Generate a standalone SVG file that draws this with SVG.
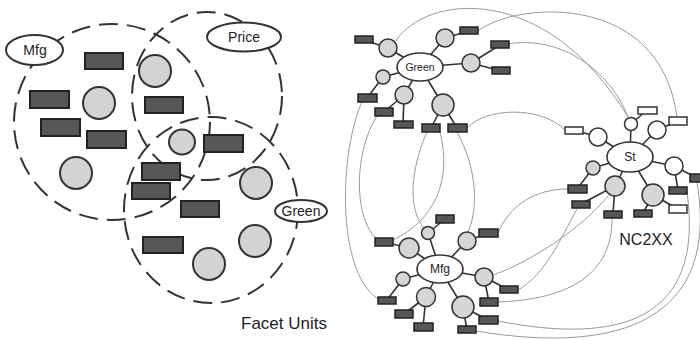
<svg xmlns="http://www.w3.org/2000/svg" width="700" height="340" viewBox="0 0 700 340">
<style>
.dash{fill:none;stroke:#333;stroke-width:2;stroke-dasharray:19 9}
.lr{fill:#575757;stroke:#222;stroke-width:2}
.lc{fill:#d3d3d3;stroke:#333;stroke-width:2}
.lab{fill:#fff;stroke:#333;stroke-width:2}
.t{font-family:"Liberation Sans",Arial,sans-serif;fill:#222;text-anchor:middle}
.hub{fill:#fff;stroke:#333;stroke-width:1.6}
.sp{stroke:#333;stroke-width:1.6;fill:none}
.g{fill:#d6d6d6;stroke:#333;stroke-width:1.5}
.w{fill:#fff;stroke:#333;stroke-width:1.5}
.dr{fill:#575757;stroke:#222;stroke-width:1.5}
.wr{fill:#fff;stroke:#333;stroke-width:1.5}
.cv{fill:none;stroke:#9a9a9a;stroke-width:1}
</style>
<rect width="700" height="340" fill="#fff"/>

<!-- LEFT: facet units -->
<g id="facet-circles">
<circle class="dash" cx="112" cy="122" r="98"/>
<ellipse class="dash" cx="207" cy="96" rx="75" ry="84"/>
<ellipse class="dash" cx="211" cy="210" rx="87" ry="93"/>
</g>
<g id="facet-units">
<rect class="lr" x="85" y="53" width="38" height="16"/>
<rect class="lr" x="30" y="91" width="39" height="17"/>
<rect class="lr" x="41" y="119" width="39" height="17"/>
<rect class="lr" x="87" y="131" width="39" height="17"/>
<rect class="lr" x="145" y="97" width="38" height="16"/>
<rect class="lr" x="204" y="135" width="39" height="17"/>
<rect class="lr" x="142" y="163" width="38" height="17"/>
<rect class="lr" x="132" y="183" width="38" height="16"/>
<rect class="lr" x="143" y="237" width="40" height="16"/>
<rect class="lr" x="181" y="201" width="38" height="16"/>
<circle class="lc" cx="155" cy="71" r="16"/>
<circle class="lc" cx="99" cy="103" r="16"/>
<circle class="lc" cx="76" cy="173" r="16"/>
<ellipse class="lc" cx="182" cy="142" rx="13" ry="12.5"/>
<circle class="lc" cx="256" cy="183" r="16"/>
<circle class="lc" cx="255" cy="241" r="16"/>
<circle class="lc" cx="209" cy="264" r="16"/>
</g>
<g id="label-mfg"><ellipse class="lab" cx="34.5" cy="50" rx="28.5" ry="15"/><text class="t" x="35" y="55" font-size="14">Mfg</text></g>
<g id="label-price"><ellipse class="lab" cx="244" cy="37" rx="37" ry="14.5"/><text class="t" x="244" y="42" font-size="14">Price</text></g>
<g id="label-green"><ellipse class="lab" cx="301" cy="211" rx="26" ry="11"/><text class="t" x="301" y="216" font-size="14">Green</text></g>
<text class="t" x="284" y="329" font-size="17">Facet Units</text>

<!-- RIGHT: network -->
<g id="connectors">
<path class="cv" d="M396,41 C425,-5 545,-20 628,117"/>
<path class="cv" d="M478,31 C515,2 660,-10 677,117"/>
<path class="cv" d="M508,44 C560,35 610,70 628,117"/>
<path class="cv" d="M467,128 C485,108 540,105 565,130"/>
<path class="cv" d="M362,102 C340,150 335,270 378,299"/>
<path class="cv" d="M377,116 C355,150 352,215 377,240"/>
<path class="cv" d="M427,132 C410,170 408,210 424,228"/>
<path class="cv" d="M440,132 C452,180 435,220 393,240"/>
<path class="cv" d="M457,132 C478,170 478,210 468,232"/>
<path class="cv" d="M498,233 C510,205 535,189 568,189"/>
<path class="cv" d="M493,275 C530,262 580,230 608,196"/>
<path class="cv" d="M518,290 C545,275 560,240 577,209"/>
<path class="cv" d="M497,302 C560,300 612,280 612,219"/>
<path class="cv" d="M498,321 C620,345 705,320 687,192"/>
<path class="cv" d="M476,331 C620,355 720,320 697,182"/>
</g>

<g id="green-hub">
<g class="sp">
<line x1="420" y1="67" x2="388" y2="48"/><line x1="388" y1="48" x2="364" y2="40"/>
<line x1="420" y1="67" x2="445" y2="38"/><line x1="445" y1="38" x2="469" y2="31"/>
<line x1="420" y1="67" x2="471" y2="63"/><line x1="471" y1="63" x2="500" y2="45"/><line x1="471" y1="63" x2="501" y2="71"/>
<line x1="420" y1="67" x2="383" y2="77"/><line x1="383" y1="77" x2="367" y2="98"/>
<line x1="420" y1="67" x2="404" y2="95"/><line x1="404" y1="95" x2="384" y2="112"/><line x1="404" y1="95" x2="403" y2="124"/>
<line x1="420" y1="67" x2="443" y2="105"/><line x1="443" y1="105" x2="431" y2="128"/><line x1="443" y1="105" x2="457" y2="128"/>
</g>
<circle class="g" cx="388" cy="48" r="9"/><rect class="dr" x="355" y="36" width="18" height="7"/>
<circle class="g" cx="445" cy="38" r="9"/><rect class="dr" x="460" y="27" width="18" height="7"/>
<circle class="g" cx="471" cy="63" r="9"/><rect class="dr" x="491" y="41" width="18" height="7"/><rect class="dr" x="492" y="67" width="18" height="7"/>
<circle class="g" cx="383" cy="77" r="7"/><rect class="dr" x="358" y="94" width="19" height="8"/>
<circle class="g" cx="404" cy="95" r="9"/><rect class="dr" x="375" y="108" width="18" height="8"/><rect class="dr" x="394" y="121" width="19" height="7"/>
<circle class="g" cx="443" cy="105" r="11"/><rect class="dr" x="422" y="124" width="18" height="8"/><rect class="dr" x="448" y="124" width="19" height="8"/>
<ellipse class="hub" cx="420" cy="67" rx="23" ry="14"/>
<text class="t" x="420" y="71" font-size="10.5">Green</text>
</g>

<g id="st-hub">
<g class="sp">
<line x1="630" y1="157" x2="631" y2="124"/><line x1="631" y1="124" x2="647" y2="110"/>
<line x1="630" y1="157" x2="657" y2="130"/><line x1="657" y1="130" x2="678" y2="121"/>
<line x1="630" y1="157" x2="598" y2="137"/><line x1="598" y1="137" x2="574" y2="130"/>
<line x1="630" y1="157" x2="674" y2="166"/><line x1="674" y1="166" x2="697" y2="178"/><line x1="674" y1="166" x2="678" y2="190"/>
<line x1="630" y1="157" x2="593" y2="168"/><line x1="593" y1="168" x2="577" y2="189"/>
<line x1="630" y1="157" x2="615" y2="186"/><line x1="615" y1="186" x2="581" y2="204"/><line x1="615" y1="186" x2="613" y2="214"/>
<line x1="630" y1="157" x2="653" y2="195"/><line x1="653" y1="195" x2="643" y2="213"/><line x1="653" y1="195" x2="678" y2="209"/>
</g>
<circle class="w" cx="631" cy="124" r="6.5"/><rect class="wr" x="638" y="107" width="19" height="7"/>
<circle class="w" cx="657" cy="130" r="9"/><rect class="wr" x="669" y="117" width="18" height="8"/>
<circle class="w" cx="598" cy="137" r="9"/><rect class="wr" x="565" y="127" width="18" height="7"/>
<circle class="w" cx="674" cy="166" r="9"/><rect class="dr" x="690" y="174" width="18" height="8"/><rect class="dr" x="669" y="187" width="18" height="7"/>
<circle class="g" cx="593" cy="168" r="7"/><rect class="dr" x="568" y="185" width="19" height="8"/>
<circle class="g" cx="615" cy="186" r="10"/><rect class="dr" x="572" y="201" width="18" height="7"/><rect class="dr" x="604" y="211" width="18" height="7"/>
<circle class="g" cx="653" cy="195" r="11"/><rect class="dr" x="634" y="210" width="18" height="7"/><rect class="wr" x="669" y="205" width="18" height="8"/>
<ellipse class="hub" cx="630" cy="157" rx="23" ry="15"/>
<text class="t" x="630" y="161" font-size="12">St</text>
</g>

<g id="mfg-hub">
<g class="sp">
<line x1="440" y1="269" x2="409" y2="248"/><line x1="409" y1="248" x2="384" y2="242"/>
<line x1="440" y1="269" x2="428" y2="233"/><line x1="428" y1="233" x2="445" y2="219"/>
<line x1="440" y1="269" x2="467" y2="241"/><line x1="467" y1="241" x2="488" y2="233"/>
<line x1="440" y1="269" x2="403" y2="279"/><line x1="403" y1="279" x2="387" y2="300"/>
<line x1="440" y1="269" x2="426" y2="297"/><line x1="426" y1="297" x2="404" y2="314"/><line x1="426" y1="297" x2="423" y2="327"/>
<line x1="440" y1="269" x2="484" y2="277"/><line x1="484" y1="277" x2="509" y2="290"/><line x1="484" y1="277" x2="489" y2="302"/>
<line x1="440" y1="269" x2="463" y2="307"/><line x1="463" y1="307" x2="488" y2="320"/><line x1="463" y1="307" x2="467" y2="330"/>
</g>
<circle class="g" cx="409" cy="248" r="10"/><rect class="dr" x="375" y="238" width="18" height="8"/>
<circle class="g" cx="428" cy="233" r="6.5"/><rect class="dr" x="436" y="215" width="18" height="8"/>
<circle class="g" cx="467" cy="241" r="9"/><rect class="dr" x="479" y="229" width="19" height="8"/>
<circle class="g" cx="403" cy="279" r="7"/><rect class="dr" x="378" y="297" width="18" height="7"/>
<circle class="g" cx="426" cy="297" r="9.5"/><rect class="dr" x="395" y="310" width="18" height="8"/><rect class="dr" x="414" y="323" width="19" height="8"/>
<circle class="g" cx="484" cy="277" r="9"/><rect class="dr" x="500" y="286" width="18" height="7"/><rect class="dr" x="480" y="298" width="18" height="8"/>
<circle class="g" cx="463" cy="307" r="11"/><rect class="dr" x="479" y="316" width="19" height="8"/><rect class="dr" x="458" y="326" width="18" height="7"/>
<ellipse class="hub" cx="440" cy="269" rx="23" ry="14"/>
<text class="t" x="440" y="273" font-size="12">Mfg</text>
</g>
<text class="t" x="646" y="245" font-size="16">NC2XX</text>
</svg>
